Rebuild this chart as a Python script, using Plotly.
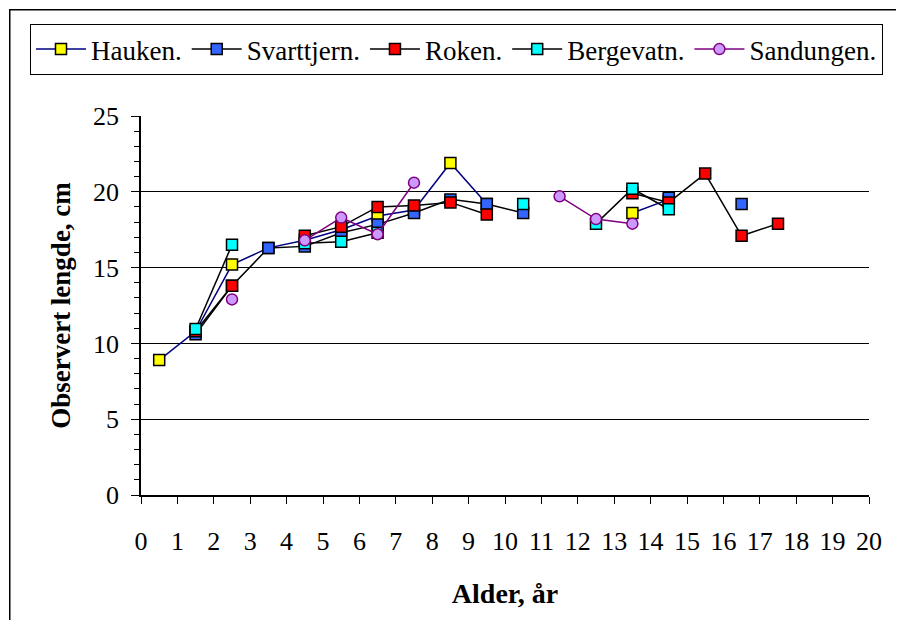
import plotly.graph_objects as go

# Age classes (years); points sit in the middle of each class
ages = list(range(18))
tick_vals = list(range(21))

hauken     = [8.9, 10.8, 15.2, 16.3, 16.8, 17.5, 18.4, 18.8, 21.9, 19.2, None, None, None, 18.6, 19.5, None, None, None]
svarttjern = [None, 10.6, 13.8, 16.3, 16.4, 17.3, 17.85, 18.6, 19.5, 19.2, 18.6, None, None, None, 19.6, None, 19.2, None]
roken      = [None, 10.8, 13.8, None, 17.1, 17.7, 19.0, 19.1, 19.3, 18.5, None, None, None, 19.9, 19.3, 21.2, 17.1, 17.9]
bergevatn  = [None, 10.95, 16.5, None, 16.6, 16.7, 17.3, None, None, None, 19.2, None, 17.9, 20.2, 18.85, None, None, None]
sandungen  = [None, None, 12.9, None, 16.8, 18.3, 17.2, 20.6, None, None, None, 19.7, 18.2, 17.9, None, None, None, None]

names = ["Hauken.", "Svarttjern.", "Roken.", "Bergevatn.", "Sandungen."]
series = [hauken, svarttjern, roken, bergevatn, sandungen]
line_colors = ["#000080", "#000000", "#000000", "#000000", "#800080"]
fill_colors = ["#FFFF00", "#3366FF", "#FF0000", "#00FFFF", "#CC99FF"]
symbols = ["square", "square", "square", "square", "circle"]
edge_colors = ["#000000", "#000000", "#000000", "#000000", "#800080"]

x_mid = [a + 0.5 for a in ages]

FONT = "Liberation Serif, Times New Roman, serif"

fig = go.Figure()
for name, vals, lc, fc, sym, ec in zip(names, series, line_colors, fill_colors, symbols, edge_colors):
    fig.add_trace(go.Scatter(
        x=x_mid, y=vals, name=name, mode="lines+markers",
        connectgaps=False,
        line=dict(color=lc, width=1.5),
        marker=dict(symbol=sym, size=11, color=fc, line=dict(color=ec, width=1.5)),
    ))

# page body has an 8px margin; figure sized to fit inside the window
W, H = 888, 612
L, R, T, B = 133, 861, 108, 487
pw, ph = R - L, B - T

def px(xp):
    return (xp - L) / pw

def py(yp):
    return (B - yp) / ph

fig.update_layout(
    width=W, height=H,
    margin=dict(l=L, r=W - R, t=T, b=H - B),
    paper_bgcolor="white", plot_bgcolor="white",
    font=dict(family=FONT, size=26, color="black"),
    showlegend=True,
    legend=dict(
        orientation="h",
        x=px(22), y=py(16), xanchor="left", yanchor="top",
        bordercolor="black", borderwidth=1,
        font=dict(family=FONT, size=27, color="black"),
        itemwidth=50, tracegroupgap=0,
    ),
    xaxis=dict(
        range=[0, 20], tickmode="array", tickvals=tick_vals, ticktext=[str(v) for v in tick_vals],
        showgrid=False, zeroline=False,
        showline=True, linecolor="black", linewidth=1.5,
        ticks="outside", ticklen=7, tickwidth=1, tickcolor="black",
        ticklabelstandoff=15,
        tickfont=dict(family=FONT, size=26),
        title=dict(text="<b>Alder, år</b>", font=dict(family=FONT, size=28), standoff=28),
    ),
    yaxis=dict(
        range=[0, 25], dtick=5, tick0=0,
        showgrid=True, gridcolor="black", gridwidth=1,
        zeroline=False,
        showline=True, linecolor="black", linewidth=1.5,
        ticks="outside", ticklen=8, tickwidth=1, tickcolor="black",
        ticklabelstandoff=7,
        minor=dict(dtick=1, ticks="outside", ticklen=5, tickcolor="black", showgrid=False),
        tickfont=dict(family=FONT, size=26),
        title=dict(text="<b>Observert lengde, cm</b>", font=dict(family=FONT, size=27), standoff=15),
    ),
    annotations=[
        dict(text=" ", showarrow=False, xref="paper", yref="paper",
             x=px(0.5), y=py(1), xanchor="left", yanchor="top",
             width=1000, height=800, bordercolor="black", borderwidth=1.5,
             borderpad=0, bgcolor="rgba(0,0,0,0)"),
    ],
)

fig.write_html("out.html")
